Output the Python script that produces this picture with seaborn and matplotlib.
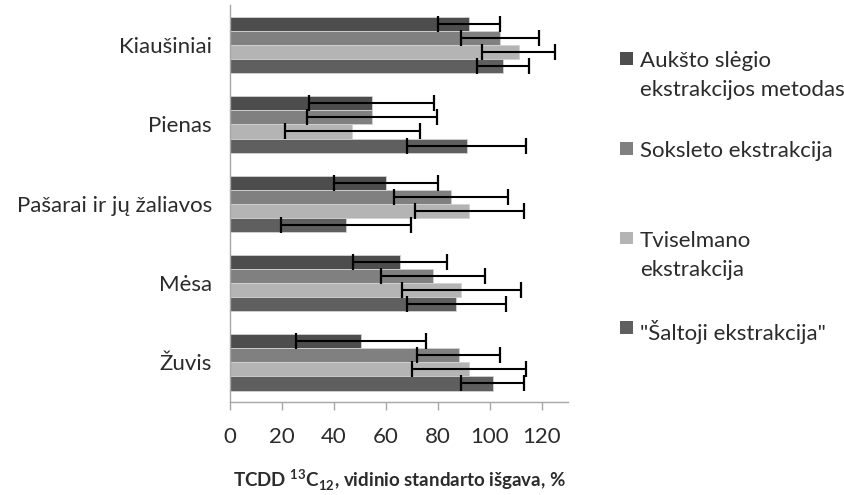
import matplotlib
matplotlib.use("Agg")
import matplotlib.pyplot as plt
import seaborn as sns
import pandas as pd
from matplotlib.patches import Rectangle

categories = ["Kiaušiniai", "Pienas", "Pašarai ir jų žaliavos", "Mėsa", "Žuvis"]
methods = ["Aukšto slėgio ekstrakcijos metodas", "Soksleto ekstrakcija",
           "Tviselmano ekstrakcija", "\"Šaltoji ekstrakcija\""]
legend_labels = ["Aukšto slėgio\nekstrakcijos metodas", "Soksleto ekstrakcija",
                 "Tviselmano\nekstrakcija", "\"Šaltoji ekstrakcija\""]

aukstas = [92, 54.5, 60, 65.5, 50.5]
soksleto = [104, 54.5, 85, 78, 88]
tviselmano = [111, 47, 92, 89, 92]
saltoji = [105, 91, 44.5, 87, 101]

aukstas_err = [12, 24, 20, 18, 25]
soksleto_err = [15, 25, 22, 20, 16]
tviselmano_err = [14, 26, 21, 23, 22]
saltoji_err = [10, 23, 25, 19, 12]

colors = ["#4d4d4d", "#808080", "#b4b4b4", "#5f5f5f"]
xticks = [0, 20, 40, 60, 80, 100, 120]
xlabel = r"TCDD $^{\mathbf{13}}$C$_{\mathbf{12}}$, vidinio standarto išgava, %"

values = [aukstas, soksleto, tviselmano, saltoji]
errors = [aukstas_err, soksleto_err, tviselmano_err, saltoji_err]
rows = []
for m, vals, errs in zip(methods, values, errors):
    for c, v, e in zip(categories, vals, errs):
        rows.append({"category": c, "method": m, "value": v, "err": e})
df = pd.DataFrame(rows)

sns.set_style("white")
FONT = "Lato"
plt.rcParams["font.family"] = [FONT, "DejaVu Sans"]
plt.rcParams["mathtext.fontset"] = "custom"
plt.rcParams["mathtext.rm"] = FONT
plt.rcParams["mathtext.bf"] = FONT + ":bold"
TXT = "#2b2b2b"
FS = 16

fig = plt.figure(figsize=(8.45, 4.95), dpi=100)
W, H = 845, 495
ax = fig.add_axes([230 / W, 1 - 402 / H, (568 - 230) / W, (402 - 5.5) / H])

sns.barplot(data=df, y="category", x="value", hue="method", order=categories,
            hue_order=methods, palette=colors, orient="h", width=0.71,
            errorbar=None, ax=ax, legend=False, saturation=1,
            edgecolor="#d2d2d2", linewidth=0.6)

for cont, m in zip(ax.containers, methods):
    sub = df[df["method"] == m].set_index("category").loc[categories]
    ys = [b.get_y() + b.get_height() / 2 for b in cont]
    xs = [b.get_width() for b in cont]
    ax.errorbar(xs, ys, xerr=sub["err"].values, fmt="none", ecolor="black",
                elinewidth=1.5, capsize=5.5, capthick=1.6, zorder=5)

ax.set_xlim(0, 130)
ax.set_ylim(4.5, -0.5)
ax.set_xticks(xticks)
ax.set_xticklabels([str(t) for t in xticks])
ax.set_ylabel("")
ax.set_xlabel(xlabel, fontsize=13.5, fontweight="bold", color=TXT, labelpad=15)

for s in ["top", "right"]:
    ax.spines[s].set_visible(False)
for s in ["left", "bottom"]:
    ax.spines[s].set_color("#a6a6a6")
    ax.spines[s].set_linewidth(1.0)

ax.tick_params(axis="x", direction="out", length=6, width=1, color="#a6a6a6",
               pad=12, labelsize=FS, labelcolor=TXT, bottom=True)
ax.tick_params(axis="y", length=0, pad=13, labelsize=FS, labelcolor=TXT)

# legend
leg_y = [58, 148, 238, 327]
for lab, col, y in zip(legend_labels, colors, leg_y):
    fig.patches.append(Rectangle((620 / W, 1 - (y + 6.5) / H), 13 / W, 13 / H,
                                 transform=fig.transFigure, facecolor=col,
                                 edgecolor="none"))
    fig.text(640 / W, 1 - (y - 7) / H, lab, fontsize=FS, color=TXT,
             va="top", ha="left", linespacing=1.55)

fig.savefig("out.png", dpi=100)
